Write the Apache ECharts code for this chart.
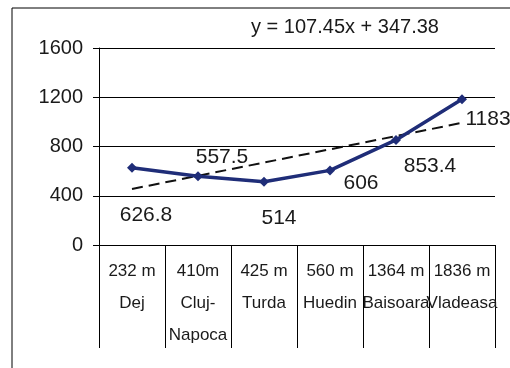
<!DOCTYPE html>
<html>
<head>
<meta charset="utf-8">
<script src="https://cdn.jsdelivr.net/npm/echarts@6/dist/echarts.min.js"></script>
<style>
  html, body { margin: 0; padding: 0; background: #fff; }
  #main { width: 510px; height: 368px; }
</style>
</head>
<body>
<div id="main"></div>
<script>
// data
var altitudes = ['232 m', '410m', '425 m', '560 m', '1364 m', '1836 m'];
var places = ['Dej', 'Cluj-\nNapoca', 'Turda', 'Huedin', 'Baisoara', 'Vladeasa'];
var values = [626.8, 557.5, 514, 606, 853.4, 1183];
var trend = [454.8, 562.3, 669.7, 777.2, 884.6, 992.1];
var equation = 'y = 107.45x + 347.38';

// where each value label sits relative to its point (px)
var labelOffsets = [[14, 47], [24, -19], [15, 36], [31, 13], [34, 26], [26, 20]];

var categories = altitudes.map(function (a, i) { return a + '\n' + places[i]; });

var chart = echarts.init(document.getElementById('main'), null, { renderer: 'canvas' });

var font = 'Liberation Sans, Arial, sans-serif';

var option = {
  animation: false,
  textStyle: { fontFamily: font },
  grid: { left: 99, right: 15, top: 48, bottom: 123 },
  graphic: [
    {
      type: 'rect',
      shape: { x: 12, y: 8, width: 520, height: 400 },
      style: { fill: 'none', stroke: '#000', lineWidth: 1 }
    },
    {
      type: 'text',
      x: 345, y: 27,
      style: {
        text: equation, fontSize: 20, fontFamily: font, fill: '#1a1a1a',
        align: 'center', verticalAlign: 'middle'
      }
    }
  ],
  xAxis: {
    type: 'category',
    data: categories,
    boundaryGap: true,
    axisLine: { lineStyle: { color: '#000', width: 1 } },
    axisTick: { show: true, interval: 0, length: 103, lineStyle: { color: '#000' } },
    axisLabel: {
      interval: 0, margin: 10, fontSize: 17, lineHeight: 32,
      color: '#1a1a1a', fontFamily: font, hideOverlap: false
    }
  },
  yAxis: {
    type: 'value',
    min: 0, max: 1600, interval: 400,
    axisLine: { show: true, lineStyle: { color: '#000', width: 1 } },
    axisTick: { show: true, length: 6, lineStyle: { color: '#000' } },
    axisLabel: {
      margin: 16, fontSize: 20, color: '#1a1a1a', fontFamily: font,
      formatter: function (v) { return String(v); }
    },
    splitLine: { lineStyle: { color: '#000', width: 1 } }
  },
  series: [
    {
      type: 'line',
      data: trend,
      symbol: 'none',
      lineStyle: { color: '#111', width: 2, type: [11, 6] },
      z: 2
    },
    {
      type: 'line',
      data: values.map(function (v, i) {
        return { value: v, label: { offset: labelOffsets[i] } };
      }),
      symbol: 'diamond',
      symbolSize: 10,
      itemStyle: { color: '#1f2d78' },
      lineStyle: { color: '#1f2d78', width: 3.5 },
      label: {
        show: true, position: 'inside',
        fontSize: 21, color: '#1a1a1a', fontFamily: font
      },
      z: 3
    }
  ]
};

chart.setOption(option);
</script>
</body>
</html>
